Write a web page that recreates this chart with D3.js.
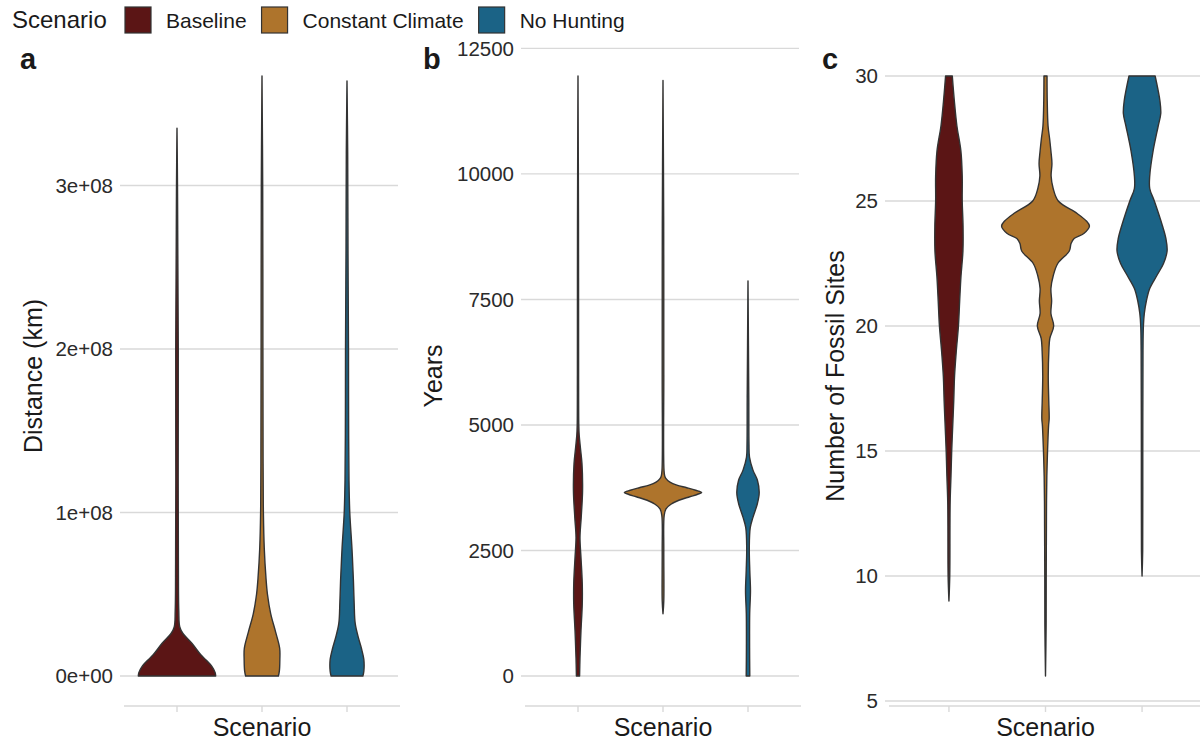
<!DOCTYPE html>
<html lang="en">
<head>
<meta charset="UTF-8">
<title>Scenario violins</title>
<script src="https://d3js.org/d3.v7.min.js"></script>
<style>
    body { margin: 0; background: #fff; }
    svg text { font-family: "Liberation Sans", Arial, sans-serif; fill: #1a1a1a; }
</style>
</head>
<body>
<svg id="chart" width="1200" height="742"></svg>
<script>
    var scenarios = ["Baseline", "Constant Climate", "No Hunting"];
    var scenarioColors = ["#5b1515", "#ae742c", "#1b6386"];

    // violin outlines: [value, relative density]
    var distBaseline = [[0, 39], [0.02e8, 38.5], [0.06e8, 35], [0.1e8, 29], [0.13e8, 24], [0.2e8, 15], [0.26e8, 6], [0.3e8, 2.8], [0.4e8, 1.8], [0.7e8, 1.4], [1.2e8, 1.2], [2.0e8, 1.3], [2.6e8, 0.8], [3.0e8, 0.5], [3.35e8, 0]];
    var distConstant = [[0, 16.5], [0.03e8, 17.5], [0.1e8, 18], [0.17e8, 17.8], [0.27e8, 13.7], [0.38e8, 8.8], [0.5e8, 5.5], [0.6e8, 4], [0.78e8, 2.3], [1.0e8, 1.4], [1.3e8, 1.1], [2e8, 0.9], [3e8, 0.7], [3.67e8, 0]];
    var distNoHunting = [[0, 16], [0.03e8, 17], [0.1e8, 17], [0.17e8, 14.5], [0.23e8, 11.7], [0.32e8, 8.3], [0.45e8, 7.2], [0.58e8, 6.5], [0.78e8, 5], [1.0e8, 2.8], [1.2e8, 2], [1.6e8, 1.6], [2.0e8, 1.5], [2.6e8, 1.0], [3.2e8, 0.7], [3.64e8, 0]];

    var yearsBaseline = [[0, 1.6], [360, 2], [900, 3], [1440, 4.3], [1840, 4.3], [2360, 3], [2760, 2], [3150, 3.2], [3690, 4.6], [4230, 4], [4550, 2.4], [4800, 1.2], [5000, 0.8], [6000, 0.6], [9000, 0.5], [11950, 0]];
    var yearsConstant = [[1240, 0], [1500, 0.8], [2500, 0.8], [3200, 1.2], [3330, 3], [3420, 8], [3500, 16], [3570, 27], [3620, 35], [3655, 39], [3700, 33], [3750, 24], [3800, 14], [3860, 7], [3920, 3.5], [3980, 1.8], [4100, 1], [6000, 0.8], [9000, 0.7], [11860, 0]];
    var yearsNoHunting = [[0, 1.8], [560, 1.6], [1240, 1.7], [1700, 2.5], [2100, 1.8], [2560, 1.3], [2960, 2.3], [3160, 5], [3435, 9.5], [3655, 11.3], [3900, 9.5], [4100, 5], [4360, 1.5], [4600, 1], [5500, 0.8], [7870, 0]];

    var fossilBaseline = [[9, 0], [10, 0.8], [12, 1], [13, 1.2], [14, 2], [15, 2.7], [16, 3.7], [17, 4.7], [18, 5.5], [19, 7.2], [20, 9.3], [21, 10.5], [22, 11.8], [23, 13.7], [24, 13.8], [25, 13], [26, 13], [27, 11.7], [28, 7.8], [29, 5.3], [30, 3.3]];
    var fossilConstant = [[6, 0], [8, 0.6], [10, 0.7], [12, 0.9], [13, 1], [14, 1.3], [15, 2], [16, 3], [16.3, 3.6], [17, 3.2], [18, 2.7], [19, 3.3], [19.5, 4.2], [20, 8], [20.5, 5.3], [21, 6], [21.5, 5.3], [22, 7.5], [22.5, 12], [23, 23.3], [23.3, 25], [23.5, 28], [23.7, 37.5], [24, 43], [24.2, 40], [24.5, 31], [25, 12.5], [25.5, 7.5], [26, 5.5], [26.5, 6.3], [27, 5.3], [27.5, 4], [28, 2.5], [29, 1.7], [30, 1.5]];
    var fossilNoHunting = [[10, 0], [11, 0.6], [15, 0.7], [19, 0.9], [20, 1.3], [20.5, 2.2], [21, 4.2], [21.5, 7.5], [22, 14.2], [22.5, 21], [23, 24.5], [23.5, 23.3], [24, 20], [25, 12], [25.5, 7.5], [26, 7.5], [27, 10.8], [28, 15.8], [28.5, 18.3], [29, 17.5], [30, 12.8]];

    var distTicks = [0, 1e8, 2e8, 3e8];
    var distTickLabels = ["0e+00", "1e+08", "2e+08", "3e+08"];
    var yearsTicks = [0, 2500, 5000, 7500, 10000, 12500];
    var fossilTicks = [5, 10, 15, 20, 25, 30];

    var svg = d3.select("#chart");
    var gridColor = "#d9d9d9";

    var panels = [
        {letter: "a", letterX: 20, x0: 126, x1: 398, title: "Distance (km)", titleX: 33,
         violins: [distBaseline, distConstant, distNoHunting], ticks: distTicks,
         fmt: function (d, i) { return distTickLabels[i]; }},
        {letter: "b", letterX: 423, x0: 527, x1: 799, title: "Years", titleX: 433,
         violins: [yearsBaseline, yearsConstant, yearsNoHunting], ticks: yearsTicks,
         fmt: function (d) { return String(d); }},
        {letter: "c", letterX: 822, x0: 891, x1: 1200, title: "Number of Fossil Sites", titleX: 835,
         violins: [fossilBaseline, fossilConstant, fossilNoHunting], ticks: fossilTicks,
         fmt: function (d) { return String(d); }}
    ];

    var plotTop = 46, plotBottom = 706;

    panels.forEach(function (p) {
        var g = svg.append("g");
        var all = d3.merge(p.violins);
        var ext = d3.extent(all, function (d) { return d[0]; });
        var pad = (ext[1] - ext[0]) * 0.05;
        var y = d3.scaleLinear().domain([ext[0] - pad, ext[1] + pad]).range([plotBottom, plotTop]);
        var x = d3.scalePoint().domain(scenarios).range([p.x0, p.x1]).padding(0.6);
        var w = d3.scaleLinear()
            .domain([0, d3.max(all, function (d) { return d[1]; })])
            .range([0, x.step() * 0.455]);

        // grid + y ticks
        g.selectAll(".grid").data(p.ticks).enter().append("line")
            .attr("x1", p.x0 - 6).attr("x2", p.x1)
            .attr("y1", function (d) { return y(d); }).attr("y2", function (d) { return y(d); })
            .attr("stroke", gridColor).attr("stroke-width", 1.4);

        g.selectAll(".tl").data(p.ticks).enter().append("text")
            .attr("x", p.x0 - 13).attr("y", function (d) { return y(d); })
            .attr("dy", "0.36em").attr("text-anchor", "end")
            .style("font-size", "20.5px").style("fill", "#2b2b2b")
            .text(p.fmt);

        // bottom axis line + ticks
        g.append("line").attr("x1", p.x0 - 2).attr("x2", p.x1 + 2)
            .attr("y1", plotBottom).attr("y2", plotBottom)
            .attr("stroke", gridColor).attr("stroke-width", 1.4);
        g.selectAll(".xt").data(scenarios).enter().append("line")
            .attr("x1", function (d) { return x(d); }).attr("x2", function (d) { return x(d); })
            .attr("y1", plotBottom).attr("y2", plotBottom + 6)
            .attr("stroke", gridColor).attr("stroke-width", 1.4);

        // violins
        p.violins.forEach(function (v, i) {
            var cx = x(scenarios[i]);
            var area = d3.area()
                .curve(d3.curveCatmullRom.alpha(0.5))
                .y(function (d) { return y(d[0]); })
                .x0(function (d) { return cx - w(d[1]); })
                .x1(function (d) { return cx + w(d[1]); });
            g.append("path").datum(v)
                .attr("d", area)
                .attr("fill", scenarioColors[i])
                .attr("stroke", "#333")
                .attr("stroke-width", 1.4)
                .attr("stroke-linejoin", "round");
        });

        // titles
        g.append("text")
            .attr("transform", "translate(" + p.titleX + "," + ((plotTop + plotBottom) / 2) + ") rotate(-90)")
            .attr("dy", "0.35em").attr("text-anchor", "middle")
            .style("font-size", "25px")
            .text(p.title);
        g.append("text")
            .attr("x", x(scenarios[1]))
            .attr("y", 736).attr("text-anchor", "middle")
            .style("font-size", "25px")
            .text("Scenario");
        g.append("text")
            .attr("x", p.letterX).attr("y", 69)
            .style("font-size", "29px").style("font-weight", "bold")
            .text(p.letter);
    });

    // legend
    var legend = svg.append("g");
    legend.append("text").attr("x", 12).attr("y", 28).style("font-size", "24px").text("Scenario");
    var lx = 125;
    scenarios.forEach(function (s, i) {
        legend.append("rect").attr("x", lx).attr("y", 7).attr("width", 26).attr("height", 26)
            .attr("fill", scenarioColors[i]).attr("stroke", "#333").attr("stroke-width", 1.2);
        var t = legend.append("text").attr("x", lx + 41).attr("y", 28)
            .style("font-size", "21px").text(s);
        lx = lx + 41 + t.node().getComputedTextLength() + 15;
    });
</script>
</body>
</html>
